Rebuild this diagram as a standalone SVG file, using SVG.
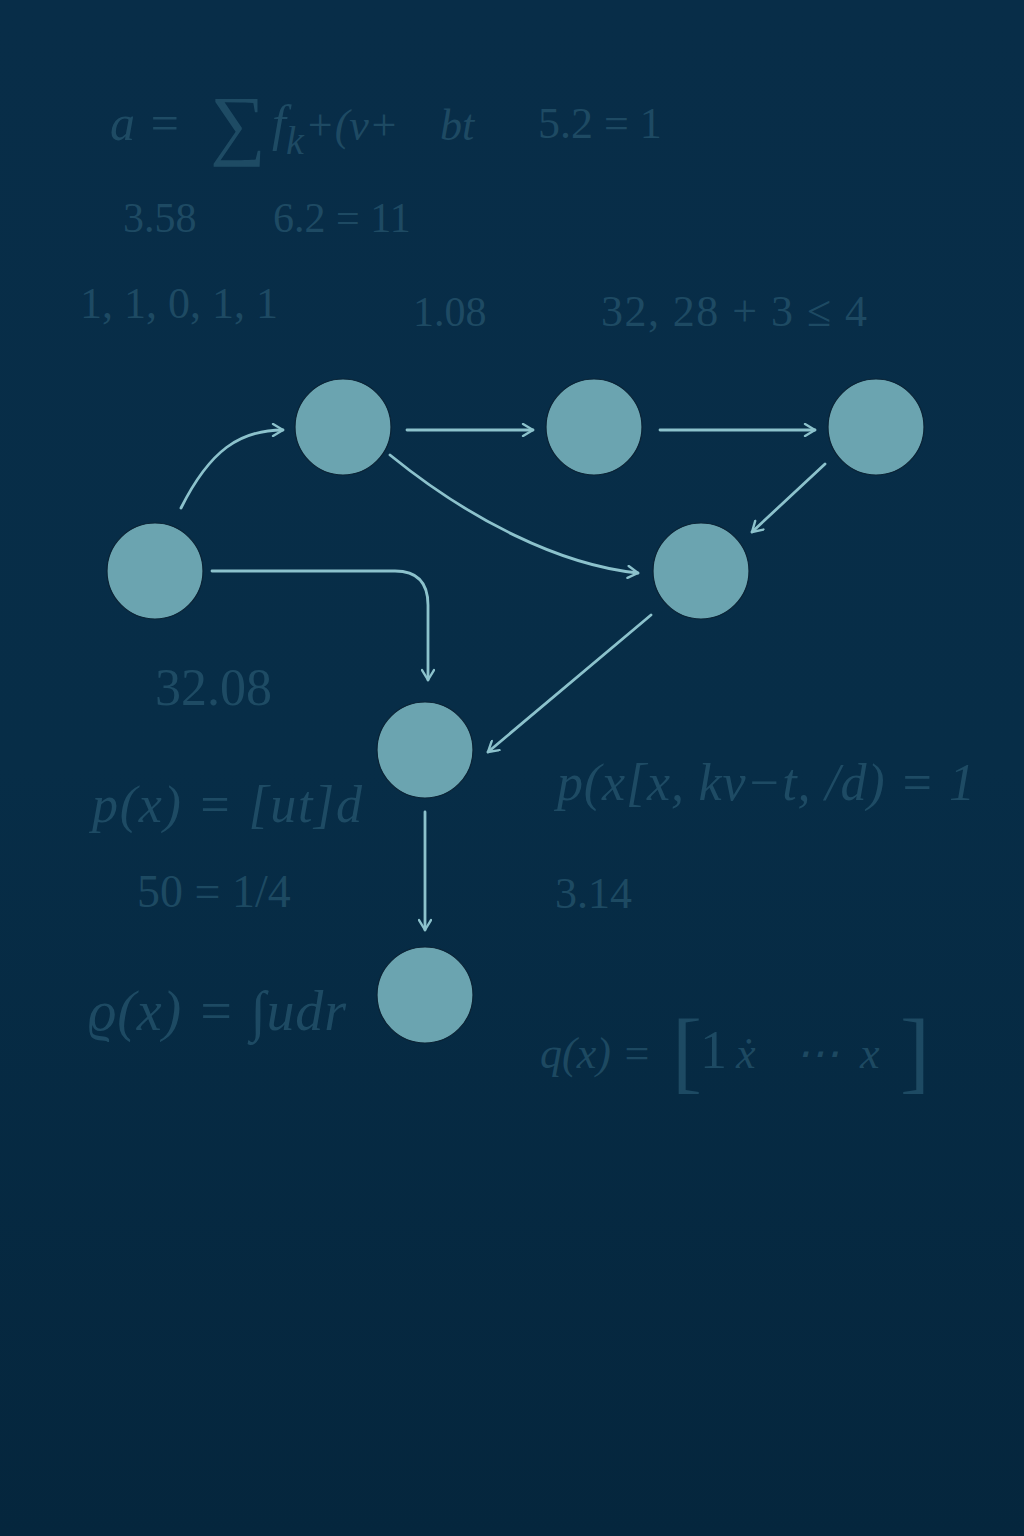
<svg xmlns="http://www.w3.org/2000/svg" width="1024" height="1536" viewBox="0 0 1024 1536">
<defs>
<linearGradient id="bg" x1="0" y1="0" x2="0" y2="1">
<stop offset="0" stop-color="#082d48"/>
<stop offset="0.5" stop-color="#072d47"/>
<stop offset="1" stop-color="#05263d"/>
</linearGradient>
<marker id="arr" viewBox="0 0 14 14" refX="12" refY="7" markerWidth="14" markerHeight="14" markerUnits="userSpaceOnUse" orient="auto">
<path d="M2,1 L12,7 L2,13" fill="none" stroke="#8cc2cc" stroke-width="2.4" stroke-linecap="round" stroke-linejoin="round"/>
</marker>
<style>
.bgt{font-family:"Liberation Serif","DejaVu Serif",serif;fill:#285870;fill-opacity:0.7}
.it{font-style:italic}
.node{fill:#6ba4b0;stroke:#0b2335;stroke-width:1.2}
.edge{fill:none;stroke:#8cc2cc;stroke-width:2.8;stroke-linecap:round;marker-end:url(#arr)}
</style>
</defs>
<rect width="1024" height="1536" fill="url(#bg)"/>
<g id="background-math">
<text class="bgt it" x="110" y="140" font-size="50">a = <tspan x="210" font-style="normal" font-size="78" dy="10">∑</tspan><tspan x="272" dy="-10">f</tspan><tspan font-size="40" dy="14">k</tspan><tspan x="305" dy="-14" font-size="44">+(v+ <tspan x="440">bt</tspan></tspan></text>
<text class="bgt" x="538" y="138" font-size="44">5.2 = 1</text>
<text class="bgt" x="123" y="232" font-size="42">3.58</text>
<text class="bgt" x="273" y="232" font-size="42">6.2 = 11</text>
<text class="bgt" x="80" y="318" font-size="44">1, 1, 0, 1, 1</text>
<text class="bgt" x="413" y="326" font-size="42">1.08</text>
<text class="bgt" x="601" y="326" font-size="44" textLength="266">32, 28 + 3 ≤ 4</text>
<text class="bgt" x="155" y="705" font-size="52">32.08</text>
<text class="bgt it" x="92" y="822" font-size="52" textLength="270">p(x) = [ut]d</text>
<text class="bgt it" x="557" y="800" font-size="52" textLength="418">p(x[x, kv−t, /d) = 1</text>
<text class="bgt" x="137" y="907" font-size="46">50 = 1/4</text>
<text class="bgt" x="555" y="908" font-size="44">3.14</text>
<text class="bgt it" x="88" y="1030" font-size="56" textLength="258">ϱ(x) = ∫udr</text>
<text class="bgt it" x="540" y="1068" font-size="44">q(x) = <tspan x="672" font-size="90" font-style="normal" dy="14">[</tspan><tspan x="700" font-size="54" font-style="normal" dy="-14">1</tspan><tspan x="736">ẋ</tspan><tspan x="795">⋯</tspan><tspan x="860">x</tspan><tspan x="900" font-size="90" font-style="normal" dy="14">]</tspan></text>
</g>
<g id="connectors">
<path class="edge" d="M181,508 C210,450 240,430 283,430"/>
<path class="edge" d="M407,430 L533,430"/>
<path class="edge" d="M660,430 L815,430"/>
<path class="edge" d="M390,455 C470,520 560,565 638,573"/>
<path class="edge" d="M825,464 L752,532"/>
<path class="edge" d="M212,571 H395 Q428,571 428,605 V680"/>
<path class="edge" d="M651,615 L488,752"/>
<path class="edge" d="M425,812 L425,930"/>
</g>
<g id="node1"><circle class="node" cx="343" cy="427" r="48"/></g>
<g id="node2"><circle class="node" cx="594" cy="427" r="48"/></g>
<g id="node3"><circle class="node" cx="876" cy="427" r="48"/></g>
<g id="node4"><circle class="node" cx="155" cy="571" r="48"/></g>
<g id="node5"><circle class="node" cx="701" cy="571" r="48"/></g>
<g id="node6"><circle class="node" cx="425" cy="750" r="48"/></g>
<g id="node7"><circle class="node" cx="425" cy="995" r="48"/></g>
</svg>
